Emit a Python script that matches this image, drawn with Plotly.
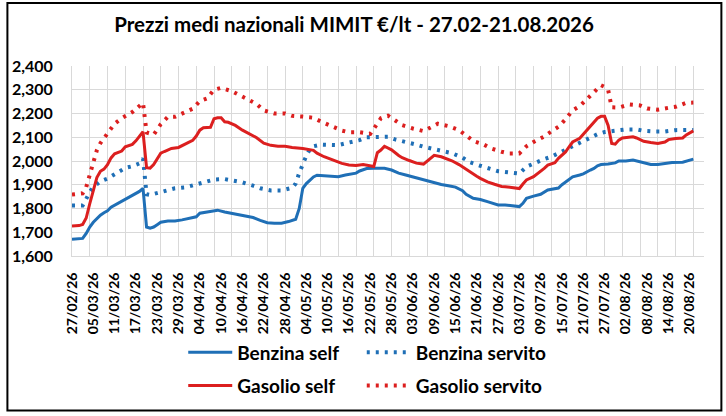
import plotly.graph_objects as go
import pandas as pd

# === Dati === #
# giorni contati dal 27/02/26, prezzi medi in €/lt
inizio = pd.Timestamp("2026-02-27")

giorni_bs = [0, 3, 4, 5, 6, 7, 8, 9, 10, 11, 13, 15, 17, 18, 19, 20, 21, 22, 23, 24, 25, 27, 29, 31, 33, 35, 36, 38, 40, 41,
             43, 45, 47, 49, 51, 53, 55, 57, 59, 61, 63, 64, 65, 66, 67, 68, 69, 71, 73, 75, 77, 79, 80, 81, 83, 85, 88,
             90, 92, 94, 96, 98, 100, 102, 104, 106, 108, 110, 111, 113, 115, 117, 119, 120, 122, 124, 126, 127, 128,
             130, 132, 134, 136, 137, 138, 140, 141, 143, 144, 146, 147, 148, 149, 151, 153, 154, 156, 158, 160, 162,
             163, 165, 167, 169, 172, 173, 175]
benzina_self = [1.670, 1.674, 1.695, 1.722, 1.742, 1.758, 1.772, 1.782, 1.790, 1.805, 1.822, 1.838, 1.855, 1.864, 1.872,
                1.885, 1.722, 1.717, 1.722, 1.732, 1.742, 1.747, 1.747, 1.752, 1.757, 1.765, 1.780, 1.785, 1.793, 1.793,
                1.785, 1.780, 1.774, 1.768, 1.762, 1.750, 1.740, 1.738, 1.738, 1.745, 1.755, 1.800, 1.885, 1.905, 1.920,
                1.933, 1.940, 1.937, 1.934, 1.934, 1.941, 1.948, 1.949, 1.958, 1.968, 1.969, 1.969, 1.962, 1.949, 1.941,
                1.933, 1.925, 1.917, 1.908, 1.901, 1.896, 1.890, 1.875, 1.860, 1.843, 1.838, 1.829, 1.819, 1.815, 1.815,
                1.811, 1.808, 1.822, 1.843, 1.852, 1.860, 1.878, 1.883, 1.886, 1.900, 1.921, 1.933, 1.941, 1.946, 1.962,
                1.969, 1.980, 1.985, 1.987, 1.992, 2.000, 2.000, 2.004, 1.996, 1.988, 1.985, 1.985, 1.990, 1.994, 1.995,
                2.000, 2.008]

giorni_bv = [0, 3, 4, 5, 6, 8, 10, 12, 15, 17, 19, 20, 21, 22, 24, 27, 29, 32, 35, 37, 40, 43, 45, 48, 51, 53, 56, 59,
             62, 63, 64, 65, 66, 67, 68, 70, 73, 75, 78, 81, 83, 86, 89, 91, 94, 97, 99, 102, 105, 107, 110, 112, 115,
             118, 120, 123, 126, 128, 130, 133, 135, 138, 140, 143, 145, 148, 150, 153, 156, 159, 161, 164, 167, 170,
             173, 175]
benzina_servito = [1.813, 1.813, 1.840, 1.870, 1.890, 1.914, 1.926, 1.945, 1.971, 1.978, 1.990, 2.011, 1.860, 1.857,
                   1.866, 1.880, 1.885, 1.889, 1.902, 1.912, 1.922, 1.924, 1.920, 1.910, 1.896, 1.885, 1.876, 1.876,
                   1.887, 1.905, 1.950, 1.990, 2.022, 2.050, 2.062, 2.069, 2.069, 2.067, 2.078, 2.088, 2.100, 2.102,
                   2.102, 2.091, 2.081, 2.069, 2.060, 2.050, 2.041, 2.033, 2.014, 1.995, 1.980, 1.966, 1.957, 1.952,
                   1.947, 1.976, 1.990, 2.008, 2.018, 2.039, 2.055, 2.074, 2.090, 2.113, 2.122, 2.127, 2.133, 2.133,
                   2.127, 2.124, 2.124, 2.130, 2.130, 2.131]

giorni_gs = [0, 2, 3, 4, 5, 6, 7, 8, 9, 10, 11, 12, 14, 15, 17, 18, 19, 20, 21, 22, 23, 24, 25, 26, 28, 30, 31, 33, 34,
             35, 36, 37, 39, 40, 41, 42, 43, 44, 46, 48, 50, 52, 54, 56, 58, 60, 62, 65, 68, 69, 71, 74, 76, 78, 80,
             82, 85, 86, 87, 88, 90, 92, 93, 95, 97, 99, 100, 101, 102, 104, 106, 107, 109, 111, 113, 114, 115, 117,
             119, 121, 122, 124, 126, 127, 128, 130, 132, 133, 134, 136, 137, 139, 140, 141, 143, 144, 146, 147, 148,
             149, 150, 151, 152, 153, 154, 155, 157, 158, 159, 161, 163, 165, 167, 168, 170, 172, 173, 175]
gasolio_self = [1.726, 1.728, 1.733, 1.760, 1.820, 1.880, 1.930, 1.957, 1.966, 1.985, 2.013, 2.030, 2.042, 2.060, 2.070,
                2.085, 2.105, 2.123, 1.972, 1.970, 1.985, 2.010, 2.033, 2.040, 2.053, 2.057, 2.064, 2.078, 2.087, 2.105,
                2.130, 2.140, 2.142, 2.178, 2.182, 2.182, 2.165, 2.163, 2.150, 2.130, 2.114, 2.098, 2.075, 2.066, 2.062,
                2.062, 2.057, 2.053, 2.045, 2.033, 2.018, 2.001, 1.990, 1.983, 1.981, 1.985, 1.977, 2.035, 2.046, 2.062,
                2.047, 2.023, 2.014, 2.002, 1.991, 1.987, 2.000, 2.015, 2.024, 2.018, 2.008, 2.001, 1.985, 1.964, 1.945,
                1.936, 1.927, 1.912, 1.902, 1.893, 1.892, 1.887, 1.884, 1.903, 1.920, 1.934, 1.955, 1.969, 1.983, 1.993,
                2.011, 2.038, 2.060, 2.080, 2.096, 2.113, 2.145, 2.163, 2.180, 2.188, 2.188, 2.150, 2.074, 2.071, 2.088,
                2.097, 2.101, 2.102, 2.097, 2.083, 2.078, 2.074, 2.080, 2.090, 2.095, 2.097, 2.110, 2.127]

giorni_gv = [0, 3, 4, 5, 6, 7, 8, 9, 11, 12, 14, 17, 19, 20, 21, 23, 25, 27, 29, 32, 34, 36, 38, 40, 42, 45, 47, 50, 52,
             54, 57, 60, 62, 65, 68, 70, 73, 76, 78, 81, 84, 85, 87, 89, 91, 93, 96, 99, 101, 103, 106, 109, 111, 113,
             116, 118, 121, 123, 126, 128, 130, 133, 135, 137, 139, 141, 143, 145, 147, 149, 150, 151, 152, 154, 157,
             160, 162, 165, 168, 170, 173, 175]
gasolio_servito = [1.859, 1.864, 1.890, 1.941, 2.000, 2.045, 2.075, 2.094, 2.135, 2.157, 2.180, 2.206, 2.232, 2.245,
                   2.120, 2.111, 2.155, 2.186, 2.186, 2.204, 2.220, 2.252, 2.263, 2.300, 2.308, 2.294, 2.279, 2.252,
                   2.240, 2.213, 2.200, 2.200, 2.190, 2.187, 2.182, 2.167, 2.149, 2.128, 2.121, 2.121, 2.114, 2.135,
                   2.180, 2.191, 2.169, 2.151, 2.137, 2.126, 2.141, 2.157, 2.147, 2.130, 2.108, 2.084, 2.069, 2.053,
                   2.039, 2.032, 2.032, 2.062, 2.080, 2.103, 2.125, 2.144, 2.176, 2.213, 2.231, 2.260, 2.293, 2.319,
                   2.312, 2.300, 2.226, 2.225, 2.238, 2.234, 2.221, 2.216, 2.224, 2.228, 2.245, 2.246]

tick_y = [1.6, 1.7, 1.8, 1.9, 2.0, 2.1, 2.2, 2.3, 2.4]

BLU = "#1f6fb6"
ROSSO = "#dc1f1f"
FONT = "Lato"


def date(giorni):
    return [inizio + pd.Timedelta(days=g) for g in giorni]


# === Plot === #
fig = go.Figure()

# nome, giorni, valori, colore, tratto, legenda (una per voce, griglia 2x2)
serie = [
    ("Benzina self", giorni_bs, benzina_self, BLU, "solid", "legend"),
    ("Benzina servito", giorni_bv, benzina_servito, BLU, "3px,6px", "legend2"),
    ("Gasolio self", giorni_gs, gasolio_self, ROSSO, "solid", "legend3"),
    ("Gasolio servito", giorni_gv, gasolio_servito, ROSSO, "3px,6px", "legend4"),
]
for nome, giorni, valori, colore, tratto, leg in serie:
    fig.add_trace(go.Scatter(
        x=date(giorni), y=valori,
        mode="lines",
        name=nome,
        line=dict(color=colore, width=3 if tratto == "solid" else 4, dash=tratto),
        legend=leg,
        showlegend=True,
    ))

giorno = 86400000
leg_font = dict(family=FONT, size=19, color="black", weight="bold")


def legenda(x, y):
    return dict(orientation="h", x=x, xanchor="left", y=y, yanchor="middle",
                font=leg_font, itemwidth=44, bgcolor="rgba(0,0,0,0)", visible=True)


fig.update_layout(
    title=dict(
        text="Prezzi medi nazionali MIMIT €/lt - 27.02-21.08.2026",
        font=dict(family=FONT, size=20.5, color="black", weight="bold"),
        x=0.4876, xanchor="center", y=0.94, yanchor="middle",
    ),
    separators=",.",
    showlegend=True,
    xaxis=dict(
        type="date",
        range=[inizio, inizio + pd.Timedelta(days=178)],
        tick0=inizio, dtick=6 * giorno,
        tickformat="%d/%m/%y", tickangle=-90,
        tickfont=dict(family=FONT, size=14, color="black", weight="bold"),
        showgrid=False, zeroline=False, ticks="", ticklabelstandoff=10,
        minor=dict(showgrid=True, gridcolor="#d9d9d9", gridwidth=1,
                   tick0=inizio + pd.Timedelta(minutes=1), dtick=5 * giorno),
        showline=True, linecolor="#d9d9d9", linewidth=1,
    ),
    yaxis=dict(
        range=[1.6, 2.4], tickvals=tick_y, tickformat=".3f",
        tickfont=dict(family=FONT, size=16, color="black", weight="bold"),
        gridcolor="#d9d9d9", gridwidth=1, zeroline=False,
        showline=True, linecolor="#d9d9d9", linewidth=1,
        ticks="", ticklabelstandoff=15,
    ),
    legend=legenda(0.176, -0.507),
    legend2=legenda(0.4585, -0.507),
    legend3=legenda(0.176, -0.682),
    legend4=legenda(0.4585, -0.682),
    shapes=[dict(type="rect", xref="paper", yref="paper",
                 x0=-0.1022, x1=1.0275, y0=-0.8132, y1=1.3316,
                 line=dict(color="black", width=2))],
    plot_bgcolor="white",
    paper_bgcolor="white",
    width=726, height=416,
    margin=dict(l=68, r=22, t=66, b=160),
)

fig.write_html("out.html", config={"displayModeBar": False},
               post_script="document.body.style.margin = '0';")
